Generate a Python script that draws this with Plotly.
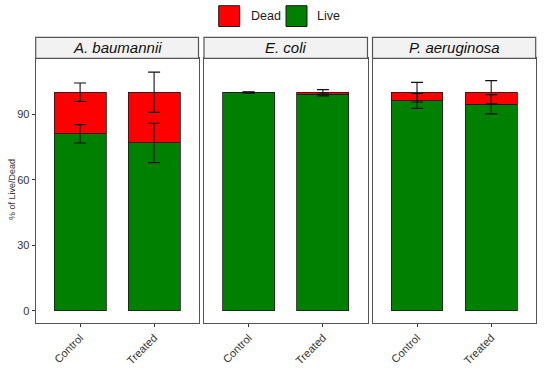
import plotly.graph_objects as go
from plotly.subplots import make_subplots

# ---------------- data ----------------
species = ["A. baumannii", "E. coli", "P. aeruginosa"]
groups = ["Control", "Treated"]
live_pct = [[81.0, 76.8], [99.8, 99.0], [96.0, 94.5]]
dead_pct = [[19.0, 23.2], [0.2, 1.0], [4.0, 5.5]]
live_sd = [[4.2, 9.0], [0.2, 0.7], [3.4, 4.4]]
dead_sd = [[4.2, 9.2], [0.2, 1.2], [4.5, 5.3]]
y_ticks = [0, 30, 60, 90]
y_title = "% of Live/Dead"

RED = "#FF0000"
GREEN = "#008000"
FONT = "Liberation Sans, Arial, sans-serif"
BORDER = "#555555"

W, H = 550, 368
panels_px = [(35.7, 198.5), (204.0, 367.5), (372.5, 535.7)]
body_top, body_bot = 58.3, 323.0
strip_top = 37.3

fig = make_subplots(rows=1, cols=3, shared_yaxes=True)

for i, sp in enumerate(species):
    col = i + 1
    tops = [l + d for l, d in zip(live_pct[i], dead_pct[i])]
    fig.add_trace(go.Bar(x=groups, y=live_pct[i], marker=dict(color=GREEN, line=dict(color="#1a1a1a", width=0.8)),
                         width=0.7, name="Live", showlegend=False), row=1, col=col)
    fig.add_trace(go.Bar(x=groups, y=dead_pct[i], marker=dict(color=RED, line=dict(color="#1a1a1a", width=0.8)),
                         width=0.7, name="Dead", showlegend=False), row=1, col=col)
    # error bars: live at live top, dead at stack top
    fig.add_trace(go.Scatter(x=groups, y=live_pct[i], mode="markers", marker=dict(size=0.1, color="rgba(0,0,0,0)"),
                             error_y=dict(type="data", array=live_sd[i], color="#111111", thickness=1.1, width=6),
                             showlegend=False, hoverinfo="skip"), row=1, col=col)
    fig.add_trace(go.Scatter(x=groups, y=tops, mode="markers", marker=dict(size=0.1, color="rgba(0,0,0,0)"),
                             error_y=dict(type="data", array=dead_sd[i], color="#111111", thickness=1.1, width=6),
                             showlegend=False, hoverinfo="skip"), row=1, col=col)

fig.update_layout(barmode="stack", width=W, height=H, margin=dict(l=0, r=0, t=0, b=0),
                  plot_bgcolor="white", paper_bgcolor="white", font=dict(family=FONT),
                  showlegend=False)

ydom = [1 - body_bot / H, 1 - body_top / H]
for i, (x0, x1) in enumerate(panels_px):
    suffix = "" if i == 0 else str(i + 1)
    fig.layout["xaxis" + suffix].update(
        domain=[x0 / W, x1 / W], range=[-0.6, 1.6], showgrid=False, zeroline=False,
        showline=True, mirror=True, linecolor=BORDER, linewidth=1.2,
        ticks="outside", ticklen=3, tickcolor="#333333", tickangle=-45,
        tickfont=dict(size=11, color="#333333", family=FONT), automargin=False)
    fig.layout["yaxis" + suffix].update(
        domain=ydom, range=[-5.5, 115.5], showgrid=False, zeroline=False,
        showline=True, mirror=True, linecolor=BORDER, linewidth=1.2,
        tickvals=y_ticks, automargin=False,
        ticks="outside" if i == 0 else "", ticklen=3, tickcolor="#333333",
        showticklabels=(i == 0), tickfont=dict(size=11, color="#333333", family=FONT))
    # strip
    fig.add_shape(type="rect", xref="paper", yref="paper",
                  x0=x0 / W, x1=x1 / W, y0=1 - body_top / H, y1=1 - strip_top / H,
                  fillcolor="#F2F2F2", line=dict(color=BORDER, width=1.2), layer="above")
    fig.add_annotation(text="<i>" + species[i] + "</i>", xref="paper", yref="paper",
                       x=(x0 + x1) / 2 / W, y=1 - (body_top + strip_top) / 2 / H,
                       showarrow=False, font=dict(size=15, color="#111111", family=FONT),
                       xanchor="center", yanchor="middle")

# y-axis title as annotation for precise placement
fig.add_annotation(text=y_title, xref="paper", yref="paper", x=12 / W, y=1 - 190 / H,
                   textangle=-90, showarrow=False, font=dict(size=9, color="#333333", family=FONT),
                   xanchor="center", yanchor="middle")

# legend (keys drawn as boxes)
legend_items = [("Dead", RED, 218.7, 249), ("Live", GREEN, 286.0, 315)]
for label, colr, bx, tx in legend_items:
    fig.add_shape(type="rect", xref="paper", yref="paper",
                  x0=bx / W, x1=(bx + 21) / W, y0=1 - 26.5 / H, y1=1 - 5.7 / H,
                  fillcolor=colr, line=dict(color="#1a1a1a", width=1))
    fig.add_annotation(text=label, xref="paper", yref="paper", x=tx / W, y=1 - 16 / H,
                       showarrow=False, xanchor="left", yanchor="middle",
                       font=dict(size=12.5, color="#1a1a1a", family=FONT))

fig.write_html("out.html", config={"displayModeBar": False},
               post_script="document.body.style.margin='0';document.body.style.padding='0';document.body.style.overflow='hidden';")
